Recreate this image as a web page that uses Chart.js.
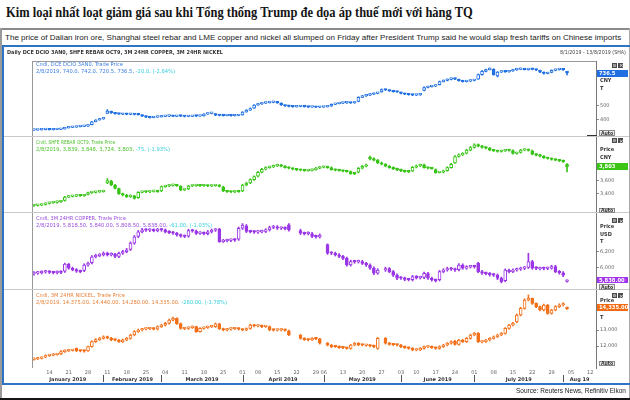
<!DOCTYPE html>
<html lang="vi">
<head>
<meta charset="utf-8">
<title>Kim loại nhất loạt giảm giá</title>
<script src="https://cdn.jsdelivr.net/npm/chart.js@4.4.1/dist/chart.umd.min.js"></script>
<style>
  html, body { margin: 0; padding: 0; background: #fff; }
  #page { position: relative; width: 630px; height: 400px; overflow: hidden; background: #fff; }
  .t { position: absolute; white-space: nowrap; font-size: 20px; line-height: 20px; transform-origin: 0 0; }
  .r { position: absolute; }
  canvas { position: absolute; left: 0; }
</style>
</head>
<body>
<div id="page">
  <canvas id="c1" width="628" height="75" style="top:61px"></canvas>
  <canvas id="c2" width="628" height="75" style="top:137px"></canvas>
  <canvas id="c3" width="628" height="76" style="top:213px"></canvas>
  <canvas id="c4" width="628" height="95" style="top:290px"></canvas>
</div>
<script>
// Daily candles, SHA trading calendar, 8 Jan 2019 - 2 Aug 2019 (axis runs to 13 Aug)

const FIRST_DAY = "2019-01-08";
const LAST_DAY = "2019-08-13";
const HOLIDAYS = ["2019-02-04", "2019-02-05", "2019-02-06", "2019-02-07", "2019-02-08",
  "2019-04-05", "2019-05-01", "2019-05-02", "2019-05-03", "2019-06-07"];
const MONTH_NAMES = ["January 2019", "February 2019", "March 2019", "April 2019",
  "May 2019", "June 2019", "July 2019", "Aug 19"];

// DCE iron ore Jan-20
const ironOpen = [325,326,327,329,331,328,330,331,335,342,
  345,347,351,352,354,365,386,398,406,445,
  460,448,442,439,441,438,440,438,434,425,
  418,415,418,420,424,425,426,424,427,425,
  423,424,426,425,428,440,445,444,432,430,
  429,431,428,430,434,455,468,482,505,512,
  518,522,524,525,518,505,498,495,492,494,
  496,493,490,492,489,490,492,497,510,515,
  518,520,522,519,530,560,570,575,582,588,
  598,615,612,605,600,596,588,582,578,575,
  577,610,630,636,640,650,672,680,688,694,
  688,678,672,675,680,690,722,745,758,760,
  712,740,745,742,748,756,760,764,758,762,
  760,752,740,730,738,752,758,762,740];
const ironHigh = [329,330,332,333,334,333,334,336,345,348,
  350,353,355,358,366,388,401,409,414,472,
  462,450,445,444,443,443,442,440,435,427,
  420,421,423,427,428,429,428,430,429,427,
  427,429,428,430,443,449,450,445,434,432,
  434,432,433,435,458,472,484,508,516,522,
  526,528,530,527,520,507,500,497,497,499,
  498,495,495,494,493,495,498,513,518,521,
  524,526,524,529,564,574,579,586,592,595,
  620,618,614,607,603,598,590,584,580,580,
  584,634,640,644,649,676,684,692,699,697,
  690,680,679,684,688,726,750,762,770,764,
  744,749,748,752,760,765,769,766,766,765,
  762,754,742,739,756,763,767,765,742];
const ironLow = [323,324,325,327,326,326,328,329,333,340,
  343,345,348,350,352,363,384,396,403,443,
  445,439,437,436,435,435,434,433,422,415,
  412,413,416,418,421,422,421,422,422,420,
  421,422,422,423,426,438,442,429,427,426,
  427,425,426,428,432,453,466,480,502,510,
  515,519,521,517,502,495,492,489,490,491,
  490,487,488,486,486,487,490,495,507,512,
  515,517,516,517,528,557,567,572,579,585,
  596,608,602,597,594,585,579,575,571,572,
  574,606,627,633,637,648,669,677,685,686,
  675,669,669,672,677,688,718,742,755,718,
  705,737,738,739,745,752,757,755,754,756,
  751,736,726,727,735,749,754,752,720.5];
const ironClose = [326,327,329,330,328,330,331,333,342,345,
  347,350,352,355,362,385,398,405,410,462,
  448,442,440,441,438,440,437,436,425,418,
  415,418,420,424,425,426,424,427,425,423,
  424,426,425,427,440,445,446,432,430,429,
  431,428,430,432,455,468,480,505,512,518,
  522,524,525,520,505,498,495,492,494,496,
  493,490,492,489,490,492,495,510,515,518,
  520,522,519,525,560,570,575,582,588,590,
  615,612,605,600,598,588,582,578,575,577,
  580,630,636,640,645,672,680,688,694,690,
  678,672,675,680,684,722,745,758,765,722,
  740,745,742,748,756,760,764,758,762,760,
  755,740,730,735,752,758,762,756.5,736.5];

// SHFE rebar Oct-19
const rebarOpen = [3220,3227,3230,3240,3255,3268,3270,3280,3300,3350,
  3360,3365,3378,3370,3390,3415,3420,3428,3432,3560,
  3590,3530,3475,3400,3380,3356,3370,3340,3420,3430,
  3425,3435,3440,3440,3505,3515,3525,3530,3510,3455,
  3470,3515,3520,3525,3518,3522,3515,3520,3525,3500,
  3440,3430,3425,3435,3440,3530,3560,3610,3660,3720,
  3765,3790,3800,3815,3830,3810,3790,3780,3765,3755,
  3750,3745,3748,3760,3780,3795,3800,3790,3760,3750,
  3745,3735,3730,3700,3720,3780,3810,3940,3920,3900,
  3860,3840,3810,3790,3770,3755,3740,3730,3740,3795,
  3815,3830,3790,3780,3760,3715,3720,3745,3790,3860,
  3955,3980,4005,4050,4090,4130,4110,4090,4080,4050,
  4040,4030,4040,4050,4045,4000,4015,4050,4055,4040,
  3990,3975,3960,3935,3925,3910,3900,3890,3839];
const rebarHigh = [3240,3242,3246,3265,3276,3282,3292,3296,3360,3372,
  3376,3386,3388,3392,3426,3432,3440,3444,3452,3625,
  3600,3540,3484,3410,3392,3384,3378,3430,3442,3438,
  3446,3452,3450,3516,3526,3536,3542,3540,3520,3470,
  3526,3530,3536,3535,3532,3530,3530,3536,3535,3510,
  3450,3440,3446,3446,3542,3572,3622,3668,3734,3778,
  3802,3812,3828,3842,3840,3820,3800,3790,3776,3766,
  3760,3758,3772,3792,3808,3812,3810,3800,3770,3760,
  3756,3746,3740,3710,3792,3822,3842,3960,3934,3912,
  3872,3850,3822,3800,3782,3766,3752,3740,3806,3828,
  3842,3842,3800,3790,3770,3732,3752,3802,3852,3968,
  3994,4012,4062,4104,4145,4142,4120,4100,4090,4060,
  4050,4052,4062,4060,4055,4022,4062,4068,4066,4052,
  4000,3986,3970,3945,3935,3920,3912,3900,3848];
const rebarLow = [3212,3216,3220,3230,3245,3256,3260,3270,3290,3340,
  3350,3355,3360,3360,3380,3404,3410,3418,3422,3550,
  3520,3470,3390,3368,3344,3346,3320,3330,3410,3414,
  3415,3424,3420,3430,3494,3504,3514,3510,3445,3446,
  3460,3505,3510,3508,3508,3505,3505,3510,3500,3430,
  3420,3414,3415,3420,3430,3518,3550,3600,3650,3710,
  3755,3780,3790,3805,3800,3780,3770,3755,3744,3740,
  3735,3735,3740,3750,3770,3785,3780,3750,3740,3735,
  3725,3720,3690,3684,3710,3770,3800,3905,3890,3848,
  3830,3800,3780,3760,3745,3730,3720,3715,3730,3785,
  3805,3780,3770,3765,3705,3708,3710,3735,3780,3850,
  3945,3970,3995,4040,4080,4100,4080,4070,4040,4030,
  4020,4020,4030,4035,3990,3990,4005,4040,4035,3980,
  3965,3950,3925,3915,3900,3890,3880,3868,3724];
const rebarClose = [3227,3230,3235,3255,3265,3270,3280,3285,3350,3360,
  3365,3375,3370,3380,3415,3420,3428,3432,3440,3595,
  3530,3480,3400,3380,3356,3370,3330,3420,3430,3425,
  3435,3440,3430,3505,3515,3525,3530,3520,3455,3460,
  3515,3520,3525,3518,3522,3515,3520,3525,3510,3440,
  3430,3425,3435,3430,3530,3560,3610,3655,3720,3765,
  3790,3800,3815,3830,3810,3790,3780,3765,3755,3750,
  3745,3748,3760,3780,3795,3800,3790,3760,3750,3745,
  3735,3730,3700,3695,3780,3810,3830,3920,3900,3860,
  3840,3810,3790,3770,3755,3740,3730,3725,3795,3815,
  3830,3790,3780,3775,3715,3720,3740,3790,3840,3955,
  3980,4000,4050,4090,4130,4110,4090,4080,4050,4040,
  4030,4040,4050,4045,4000,4010,4050,4055,4045,3990,
  3975,3960,3935,3925,3910,3900,3890,3878,3803];

// LME 3M copper (null = LME closed)
const copperOpen = [5915,5925,5930,5940,5945,5935,5930,5940,5950,6040,
  5990,5970,5950,5960,6030,6060,6135,6150,6160,6180,
  6160,6170,6140,6180,6200,6230,6310,6395,6455,6480,
  6475,6480,6470,6485,6480,6455,6445,6436,6415,6400,
  6400,6470,6465,6435,6440,6430,6455,6475,6490,6330,
  6340,6345,6350,6360,6500,6530,6460,6455,6450,6455,
  6460,6480,6510,6520,6500,6505,6545,null,null,6470,
  6436,6430,6430,6395,6390,null,6290,6185,6180,6160,
  6140,6115,6030,6075,6070,6075,6050,6030,5990,5925,
  null,5965,5985,5945,5900,5865,5860,5845,5840,5880,
  5865,5870,5920,5860,5840,5840,5945,5965,5985,5975,
  5970,6030,5990,6005,6010,6050,5944,5925,5920,5905,
  5900,5860,5830,5965,5944,5965,5975,5987,6000,6073,
  5995,5980,5987,5985,5990,6008,5944,5930,5818.5];
const copperHigh = [5945,5948,5956,5962,5958,5950,5955,5955,6055,6050,
  6002,5984,5964,6045,6068,6150,6168,6176,6198,6195,
  6186,6178,6195,6218,6242,6326,6408,6472,6498,6496,
  6496,6492,6500,6498,6492,6470,6460,6448,6428,6415,
  6488,6485,6478,6458,6455,6472,6492,6498,6500,6358,
  6362,6366,6366,6516,6560,6548,6475,6470,6475,6476,
  6495,6528,6538,6535,6520,6520,6560,null,null,6488,
  6452,6456,6448,6412,6428,null,6300,6200,6195,6175,
  6155,6130,6092,6090,6092,6090,6065,6045,6005,5982,
  null,6002,5998,5960,5915,5880,5875,5860,5896,5895,
  5885,5940,5935,5875,5850,5960,5982,6002,6000,5990,
  6048,6045,6020,6026,6025,6065,5960,5940,5935,5920,
  5915,5875,5980,5978,5980,5990,6002,6012,6180,6090,
  6010,6002,6004,6005,6025,6026,5960,5945,5840];
const copperLow = [5900,5910,5915,5925,5920,5915,5915,5920,5935,5975,
  5955,5935,5930,5945,6015,6045,6120,6135,6145,6145,
  6145,6125,6125,6165,6185,6215,6295,6380,6440,6460,
  6458,6455,6455,6462,6440,6430,6420,6400,6385,6380,
  6385,6450,6420,6420,6415,6415,6440,6460,6320,6318,
  6325,6330,6332,6345,6485,6445,6440,6435,6435,6440,
  6445,6465,6495,6485,6485,6480,6462,null,null,6420,
  6415,6415,6380,6372,6375,null,6165,6162,6145,6122,
  6098,6015,6015,6052,6055,6035,6012,5972,5905,5910,
  null,5948,5930,5882,5842,5845,5828,5825,5825,5850,
  5850,5855,5845,5822,5812,5825,5930,5950,5960,5948,
  5955,5975,5975,5990,5990,5930,5908,5902,5888,5882,
  5842,5800,5815,5928,5930,5950,5960,5972,5985,5975,
  5970,5965,5968,5970,5975,5930,5912,5880,5808.5];
const copperClose = [5925,5930,5940,5945,5935,5930,5940,5935,6040,5990,
  5970,5950,5945,6030,6050,6135,6150,6160,6180,6160,
  6170,6140,6180,6200,6225,6310,6390,6455,6480,6475,
  6480,6470,6485,6478,6455,6445,6436,6415,6400,6395,
  6470,6465,6435,6440,6430,6455,6475,6480,6330,6340,
  6345,6350,6348,6500,6540,6460,6455,6450,6460,6460,
  6480,6510,6520,6500,6505,6495,6478,null,null,6436,
  6430,6440,6395,6390,6410,null,6180,6180,6160,6140,
  6115,6030,6075,6070,6075,6050,6030,5990,5925,5965,
  null,5985,5945,5900,5860,5860,5845,5840,5880,5865,
  5870,5923,5860,5840,5830,5945,5965,5985,5975,5965,
  6030,5990,6005,6010,6008,5944,5925,5920,5905,5900,
  5860,5816,5965,5944,5965,5975,5987,5995,6073,5990,
  5987,5987,5985,5990,6008,5944,5930,5899,5838];

// LME 3M nickel (null = LME closed)
const nickelOpen = [11150,11190,11230,11300,11400,11420,11460,11500,11650,11700,
  11720,11850,11700,11690,11700,11960,12270,12400,12480,12580,
  12500,12380,12370,12270,12380,12480,12690,12900,13000,13050,
  13080,13100,13050,13210,13300,13420,13620,13730,13400,13080,
  13100,13150,13210,12900,13100,13150,13200,13210,13380,13080,
  13000,13050,13080,13100,13050,13000,13100,13310,13250,13260,
  13210,13220,13000,12990,13000,13010,12950,null,null,12690,
  12480,12400,12375,12480,12450,null,12170,12060,11980,11960,
  11900,11880,11854,12063,12170,12063,12040,12063,12000,11854,
  null,12480,12170,12100,12080,12063,11958,11900,11854,11750,
  11760,11854,11940,11958,11900,11854,11958,12063,12170,12310,
  12100,12375,12270,12480,12690,12790,12250,12270,12375,12480,
  12580,12690,12790,13100,13310,13500,13940,14350,14875,14980,
  14660,14460,14250,14560,14040,14250,14460,14560,14375];
const nickelHigh = [11260,11290,11330,11450,11480,11520,11540,11710,11760,11780,
  11800,11880,11750,11740,12000,12320,12460,12540,12640,12620,
  12540,12440,12420,12430,12540,12740,12960,13060,13110,13140,
  13160,13150,13260,13360,13480,13680,13800,13760,13440,13150,
  13200,13260,13240,13150,13200,13250,13260,13440,13420,13120,
  13100,13130,13150,13140,13070,13130,13370,13340,13310,13300,
  13270,13250,13050,13050,13070,13060,13000,null,null,12720,
  12520,12450,12530,12520,12480,null,12220,12100,12030,12010,
  11940,11920,12110,12220,12210,12110,12110,12090,12050,12530,
  null,12530,12220,12150,12130,12110,12000,11950,11900,11820,
  11900,12000,12010,12000,11950,12010,12110,12220,12320,12360,
  12420,12420,12530,12740,12850,12840,12320,12420,12530,12630,
  12740,12840,13150,13360,13480,14000,14420,14950,15190,15000,
  14700,14500,14620,14600,14300,14520,14640,14700,14440];
const nickelLow = [11120,11150,11190,11260,11350,11380,11420,11460,11600,11650,
  11680,11650,11630,11620,11660,11920,12220,12350,12430,12450,
  12330,12310,12220,12220,12330,12430,12640,12850,12950,13000,
  13030,13000,13000,13160,13250,13370,13570,13350,13050,13020,
  13040,13100,12850,12860,13050,13100,13150,13160,13030,12950,
  12950,12990,13030,13000,12950,12950,13050,13200,13200,13150,
  13160,12950,12930,12940,12950,12930,12640,null,null,12430,
  12350,12320,12330,12400,12120,null,12010,11900,11910,11850,
  11830,11800,11800,12010,12010,12010,11990,11950,11900,11800,
  null,12120,12050,12030,12010,11900,11850,11800,11700,11700,
  11710,11800,11890,11850,11800,11800,11900,12010,12120,12050,
  12050,12220,12220,12430,12640,12220,12200,12220,12320,12430,
  12530,12640,12740,13050,13260,13450,13880,14300,14820,14600,
  14400,14200,14200,13980,13990,14200,14400,14500,14280];
const nickelClose = [11190,11230,11270,11400,11420,11460,11480,11650,11700,11720,
  11750,11700,11690,11680,11960,12270,12400,12480,12580,12500,
  12380,12370,12270,12380,12480,12690,12900,13000,13050,13080,
  13100,13050,13210,13300,13420,13620,13730,13400,13100,13100,
  13150,13210,12900,13100,13150,13200,13210,13380,13080,13000,
  13050,13080,13100,13050,13000,13080,13310,13250,13260,13210,
  13220,13000,12990,13000,13010,12980,12690,null,null,12480,
  12400,12375,12480,12450,12170,null,12060,11960,11960,11900,
  11880,11854,12063,12170,12063,12060,12063,12000,11958,12480,
  null,12170,12100,12080,12063,11958,11900,11854,11750,11760,
  11854,11958,11958,11900,11854,11958,12063,12170,12270,12100,
  12375,12270,12480,12690,12790,12270,12270,12375,12480,12580,
  12690,12790,13100,13310,13416,13940,14350,14875,14980,14660,
  14460,14250,14560,14040,14250,14460,14560,14595,14335];

const ironTicks = [400, 500];
const rebarTicks = [3400, 3600];
const copperTicks = [6000, 6200];
const nickelTicks = [12000, 13000];

// ---------------------------------------------------------------------------

const page = document.getElementById("page");

function tradingDays() {
  const out = [];
  const d = new Date(FIRST_DAY + "T00:00:00Z");
  const end = new Date(LAST_DAY + "T00:00:00Z");
  while (d <= end) {
    const iso = d.toISOString().slice(0, 10);
    const wd = d.getUTCDay();
    if (wd >= 1 && wd <= 5 && !HOLIDAYS.includes(iso)) out.push(iso);
    d.setUTCDate(d.getUTCDate() + 1);
  }
  return out;
}
const DAYS = tradingDays();
const MONTH_STARTS = DAYS.map((d, i) => (i === 0 || d.slice(5, 7) !== DAYS[i - 1].slice(5, 7)) ? i : -1)
  .filter(i => i >= 0);

function rect(x, y, w, h, bg, extra) {
  const d = document.createElement("div");
  d.className = "r";
  Object.assign(d.style, { left: x + "px", top: y + "px", width: w + "px", height: h + "px", background: bg });
  if (extra) Object.assign(d.style, extra);
  page.appendChild(d);
  return d;
}

// text placed by baseline; drawn at 20px then scaled down (avoids minimum font sizes)
function text(str, x, base, size, o = {}) {
  const el = document.createElement("div");
  el.className = "t";
  if (o.html) el.innerHTML = str; else el.textContent = str;
  el.style.fontFamily = o.family || '"DejaVu Sans", sans-serif';
  el.style.fontWeight = o.bold ? "bold" : "normal";
  el.style.color = o.color || "#333";
  page.appendChild(el);
  const s = size / 20;
  const natural = el.offsetWidth;
  const sx = o.width ? o.width / natural : s;
  const left = o.align === "right" ? x - natural * sx : x;
  el.style.left = left + "px";
  el.style.top = (base - 0.845 * size) + "px";
  el.style.transform = `scale(${sx}, ${s})`;
  return el;
}

const CYAN = "#36cfe0";
const PANELS = [
  { id: "c1", min: 283.6, max: 819.3, color: "#1f6fe3", ticks: ironTicks,
    open: ironOpen, high: ironHigh, low: ironLow, close: ironClose },
  { id: "c2", min: 3127, max: 4246, color: "#38c417", ticks: rebarTicks,
    open: rebarOpen, high: rebarHigh, low: rebarLow, close: rebarClose },
  { id: "c3", min: 5722, max: 6696, color: "#9a36e6", ticks: copperTicks,
    open: copperOpen, high: copperHigh, low: copperLow, close: copperClose },
  { id: "c4", min: 10625, max: 15500, color: "#f2701a", ticks: nickelTicks, showX: true,
    open: nickelOpen, high: nickelHigh, low: nickelLow, close: nickelClose },
];

PANELS.forEach(p => {
  [p.open, p.high, p.low, p.close].forEach(a => {
    if (a.length !== 139) throw new Error(p.id + " series length " + a.length);
  });
});

const monthRow = {
  id: "monthRow",
  afterDraw(chart) {
    if (chart.canvas.id !== "c4") return;
    const { ctx, chartArea, scales } = chart;
    const edges = MONTH_STARTS.map(i => i === 0 ? chartArea.left : scales.x.getPixelForValue(i));
    edges.push(chartArea.right);
    ctx.save();
    ctx.font = 'bold 5px "DejaVu Sans"';
    ctx.fillStyle = "#333";
    ctx.textAlign = "center";
    ctx.textBaseline = "middle";
    MONTH_NAMES.forEach((name, k) => {
      ctx.fillText(name, (edges[k] + edges[k + 1]) / 2, chartArea.bottom + 11.5);
    });
    ctx.fillStyle = "#555";
    for (let k = 1; k < MONTH_STARTS.length; k++) {
      ctx.fillRect(Math.round(edges[k]), chartArea.bottom + 7, 1, 7);
    }
    ctx.restore();
  },
};

function makePanel(p) {
  const wick = p.low.map((l, i) => l == null ? null : [l, p.high[i]]);
  const body = p.open.map((o, i) => o == null ? null : [o, p.close[i]]);
  const fill = p.open.map((o, i) => (o != null && p.close[i] >= o) ? "#ffffff" : p.color);
  return new Chart(document.getElementById(p.id), {
    type: "bar",
    data: {
      labels: DAYS,
      datasets: [
        { data: wick, backgroundColor: p.color, barThickness: 1, grouped: false, order: 2 },
        { data: body, backgroundColor: fill, borderColor: p.color, borderWidth: 1,
          borderSkipped: false, barThickness: 3, minBarLength: 1.5, grouped: false, order: 1 },
      ],
    },
    options: {
      responsive: false,
      animation: false,
      events: [],
      layout: { padding: { left: 32, right: 0, top: 0, bottom: 0 } },
      plugins: { legend: { display: false }, tooltip: { enabled: false } },
      scales: {
        x: {
          display: !!p.showX,
          offset: true,
          grid: { display: false, drawTicks: false },
          border: { display: false },
          ticks: {
            autoSkip: false, maxRotation: 0, minRotation: 0, padding: 1.5,
            color: "#666", font: { size: 5, family: "DejaVu Sans" },
            callback: (v, i) => {
              const d = new Date(DAYS[i] + "T00:00:00Z");
              return d.getUTCDay() === 1 ? DAYS[i].slice(8, 10) : "";
            },
          },
          afterFit: s => { s.height = p.showX ? 17 : 0; s.paddingLeft = 0; s.paddingRight = 0; },
        },
        y: {
          position: "right",
          min: p.min,
          max: p.max,
          afterBuildTicks: s => { s.ticks = p.ticks.map(v => ({ value: v })); },
          afterFit: s => { s.width = 32; s.paddingTop = 0; s.paddingBottom = 0; },
          grid: { drawOnChartArea: false, tickLength: 3, color: "#888" },
          border: { color: "#777" },
          ticks: {
            padding: 1, color: "#666", font: { size: 5, family: "DejaVu Sans" },
            callback: v => Number(v).toLocaleString("en-US"),
          },
        },
      },
    },
    plugins: [monthRow],
  });
}

PANELS.forEach(makePanel);

// frame, separators
rect(0, 28, 630, 2, "#8a8a8a");
rect(0, 28, 2, 372, "#9a9a9a");
rect(629, 28, 1, 372, "#aaa");
rect(0, 398, 630, 2, "#151515");
rect(2, 45, 628, 2, "#2d74c4");
rect(2, 45, 2, 340, "#2d74c4");
rect(2, 383, 628, 2, "#2d74c4");
rect(32, 61, 564, 1, "#999");
rect(32, 61, 1, 307, "#999");
[136, 212, 289].forEach(y => rect(4, y, 625, 1, "#c8c8c8"));
rect(587, 135, 10, 1, "#333");

// headings
text("Kim loại nhất loạt giảm giá sau khi Tổng thống Trump đe dọa áp thuế mới với hàng TQ",
  6, 16.7, 14.1, { family: '"Liberation Serif", serif', bold: true, color: "#141414", width: 467 });
text("The price of Dalian iron ore, Shanghai steel rebar and LME copper and nickel all slumped on Friday after President Trump said he would slap fresh tariffs on Chinese imports",
  5, 39.4, 8, { family: '"Liberation Sans", sans-serif', color: "#222", width: 616 });
text("Daily DCE DCIO 3AN0, SHFE REBAR OCT9, 3M 24HR COPPER, 3M 24HR  NICKEL",
  7, 54.3, 5.1, { bold: true, color: "#333", width: 216 });
text("8/1/2019 - 13/8/2019 (SHA)", 626, 54.3, 5.1, { color: "#444", width: 66, align: "right" });
text("Source: Reuters News, Refinitiv Eikon", 626, 393.3, 7,
  { family: '"Liberation Sans", sans-serif', color: "#222", width: 110, align: "right" });

// panel legends
const LEGENDS = [
  ["Cndl, DCE DCIO 3AN0, Trade Price", "2/8/2019, 740.0, 742.0, 720.5, 736.5, ", "-20.0, (-2.64%)", 66, 87, 139, "#3f80e2"],
  ["Cndl, SHFE REBAR OCT9, Trade Price", "2/8/2019, 3,839, 3,848, 3,724, 3,803, ", "-75, (-1.93%)", 144, 79, 134, "#4cc22a"],
  ["Cndl, 3M 24HR COPPER, Trade Price", "2/8/2019, 5,818.50, 5,840.00, 5,808.50, 5,838.00, ", "-61.00, (-1.03%)", 220, 90, 176, "#9a4fdb"],
  ["Cndl, 3M 24HR  NICKEL, Trade Price", "2/8/2019, 14,375.00, 14,440.00, 14,280.00, 14,335.00, ", "-260.00, (-1.78%)", 296.7, 89, 191, "#e8823a"],
];
LEGENDS.forEach(([l1, l2, chg, base, w1, w2, col]) => {
  text(l1, 36, base, 4.6, { color: col, width: w1 });
  text(`${l2}<span style="color:${CYAN}">${chg}</span>`, 36, base + 7, 4.6, { color: col, width: w2, html: true });
});

// right-hand side: window buttons, unit labels, last price, Auto
function buttons(y) {
  rect(611.5, y, 5, 5, "#4a4a4a");
  rect(612.5, y + 1, 3, 3, "#9a9a9a");
  rect(618, y, 5, 5, "#4a4a4a");
  text("×", 618.6, y + 4.6, 5.5, { color: "#ddd", bold: true });
}
function auto(y) {
  rect(599, y, 16, 5.5, "#ececec", { border: "1px solid #8a8a8a", boxSizing: "border-box" });
  text("Auto", 600.5, y + 4.4, 4.6, { color: "#333", bold: true });
}
function lastPrice(label, y, bg) {
  rect(597, y, 31, 6.5, bg);
  text(label, 598.5, y + 5.3, 5.2, { color: "#fff", bold: true });
}

buttons(62.5); buttons(138); buttons(217.7); buttons(292.7);
text("CNY", 600, 82, 5, { bold: true }); text("T", 600, 90, 5, { bold: true });
text("Price", 600, 151.7, 5, { bold: true }); text("CNY", 600, 159.3, 5, { bold: true });
text("Price", 600, 228.3, 5, { bold: true }); text("USD", 600, 236, 5, { bold: true }); text("T", 600, 243.3, 5, { bold: true });
text("Price", 600, 302.3, 5, { bold: true }); text("T", 600, 319.3, 5, { bold: true });
lastPrice("736.5", 70, "#1f6fe3");
lastPrice("3,803", 163.3, "#3ac414");
lastPrice("5,838.00", 276.7, "#a236ee");
lastPrice("14,335.00", 304, "#f26b12");
auto(130); auto(207.5); auto(284); auto(360.5);
</script>
</body>
</html>
